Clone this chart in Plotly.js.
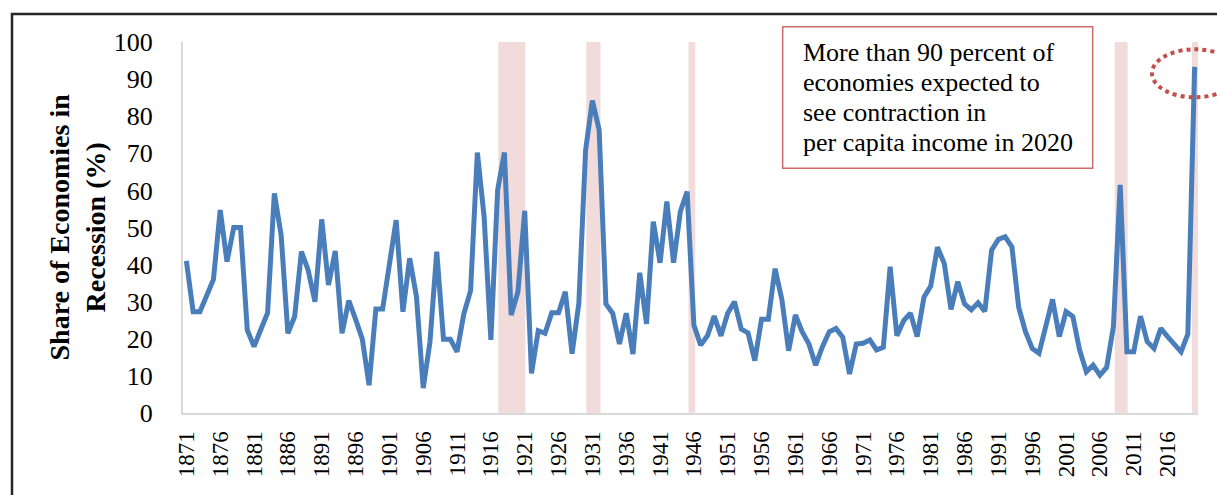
<!DOCTYPE html>
<html>
<head>
<meta charset="utf-8">
<script src="https://cdn.plot.ly/plotly-3.0.1.min.js"></script>
<style>
  html, body { margin: 0; padding: 0; background: #fff; }
  #chart { width: 1217px; height: 495px; }
</style>
</head>
<body>
<div id="chart"></div>
<script>
// ---- data ----
const firstYear = 1871;
const lastYear = 2020;
const years = [];
for (let y = firstYear; y <= lastYear; y++) years.push(y);

const shareInRecession = [
  41.0, 27.3, 27.3, 31.4, 36.0, 54.7, 40.8, 50.0, 50.0, 22.4,   // 1871-1880
  17.9, 22.5, 27.0, 59.2, 48.0, 21.5, 26.0, 43.5, 38.5, 30.0,   // 1881-1890
  52.2, 34.5, 43.7, 21.5, 30.3, 25.3, 19.9, 7.5, 28.0, 28.0,    // 1891-1900
  41.2, 52.0, 27.3, 41.7, 31.4, 6.7, 19.2, 43.5, 19.9, 19.9,    // 1901-1910
  16.5, 26.7, 33.0, 70.2, 52.9, 19.7, 60.1, 70.2, 26.4, 32.7,   // 1911-1920
  54.5, 10.7, 22.2, 21.5, 27.0, 27.0, 32.7, 16.0, 29.6, 70.9,   // 1921-1930
  84.2, 76.3, 29.4, 26.9, 18.6, 26.9, 15.9, 37.8, 24.0, 51.6,   // 1931-1940
  40.5, 57.0, 40.5, 54.3, 59.7, 23.7, 18.3, 20.8, 26.1, 20.8,   // 1941-1950
  26.9, 30.0, 22.6, 21.6, 14.1, 25.3, 25.3, 38.9, 30.6, 16.8,   // 1951-1960
  26.4, 21.9, 18.6, 12.9, 17.9, 21.9, 22.8, 20.4, 10.5, 18.6,   // 1961-1970
  18.8, 19.7, 17.0, 17.7, 39.4, 20.8, 24.9, 26.9, 20.6, 31.2,   // 1971-1980
  34.2, 44.7, 40.3, 27.9, 35.4, 29.4, 27.8, 29.7, 27.4, 43.9,   // 1981-1990
  46.8, 47.5, 44.8, 28.5, 21.9, 17.4, 16.1, 23.3, 30.6, 20.6,   // 1991-2000
  27.3, 26.0, 17.0, 11.1, 12.9, 10.2, 12.3, 23.3, 61.5, 16.5,   // 2001-2010
  16.5, 26.1, 19.2, 17.4, 22.8, 20.6, 18.3, 16.5, 21.3, 93.3    // 2011-2020
];

// global recession shading (start / end on the year axis)
const recessionStart = [1917.1, 1930.1, 1945.2, 2008.2, 2019.6];
const recessionEnd   = [1921.1, 1932.2, 1946.2, 2010.1, 2020.6];

// x tick labels every 5 years
const tickYears = years.filter(y => (y - firstYear) % 5 === 0);
const tickLabels = tickYears.map(String);
const yTicks = [0, 10, 20, 30, 40, 50, 60, 70, 80, 90, 100];

const noteLines = [
  "More than 90 percent of",
  "economies expected to",
  "see contraction in",
  "per capita income in 2020"
];
const yTitleText = "Share of Economies in<br>Recession (%)";

// ---- layout geometry helpers ----
const W = 1217, H = 495;
const mL = 183, mR = 19, mT = 42, mB = 82;
const pw = W - mL - mR, ph = H - mT - mB;
const px = (x) => (x - mL) / pw;      // pixel -> paper x
const py = (y) => (H - mB - y) / ph;  // pixel -> paper y

const serif = "'Liberation Serif', 'Times New Roman', serif";

const shapes = [];
recessionStart.forEach((s, i) => {
  shapes.push({
    type: 'rect', xref: 'x', yref: 'paper', layer: 'below',
    x0: s, x1: recessionEnd[i], y0: 0, y1: 1,
    fillcolor: '#F2DCDB', line: { width: 0 }
  });
});
// outer frame
shapes.push({
  type: 'rect', xref: 'paper', yref: 'paper',
  x0: px(12), x1: px(1260), y0: py(540), y1: py(14),
  line: { color: '#262626', width: 2.5 }, fillcolor: 'rgba(0,0,0,0)'
});
// note box
shapes.push({
  type: 'rect', xref: 'paper', yref: 'paper',
  x0: px(782.7), x1: px(1092.7), y0: py(168.3), y1: py(26.7),
  line: { color: '#D06A66', width: 1.5 }, fillcolor: 'rgba(0,0,0,0)'
});
// dotted ellipse highlighting 2020
shapes.push({
  type: 'circle', xref: 'paper', yref: 'paper',
  x0: px(1152), x1: px(1238), y0: py(97.3), y1: py(49.3),
  line: { color: '#C0504D', width: 4, dash: 'dot' }, fillcolor: 'rgba(0,0,0,0)'
});

const trace = {
  type: 'scatter', mode: 'lines',
  x: years, y: shareInRecession,
  line: { color: '#4A7EBB', width: 5 },
  hoverinfo: 'x+y'
};

const annotations = [
  {
    xref: 'paper', yref: 'paper', x: px(77), y: 0.5,
    xanchor: 'center', yanchor: 'middle', textangle: -90,
    text: '<b>' + yTitleText + '</b>', showarrow: false,
    font: { family: serif, size: 28, color: '#000' }
  }
];
noteLines.forEach((line, i) => {
  annotations.push({
    xref: 'paper', yref: 'paper', x: px(801), y: py(52.5 + 30 * i),
    xanchor: 'left', yanchor: 'middle', align: 'left',
    text: line, showarrow: false,
    font: { family: serif, size: 26, color: '#000' }
  });
});

const layout = {
  width: W, height: H,
  margin: { l: mL, r: mR, t: mT, b: mB, pad: 0 },
  paper_bgcolor: '#ffffff', plot_bgcolor: '#ffffff',
  showlegend: false,
  font: { family: serif, color: '#000' },
  xaxis: {
    range: [firstYear - 0.5, lastYear + 0.5],
    tickmode: 'array', tickvals: tickYears, ticktext: tickLabels,
    tickangle: -90, ticks: '', ticklabelstandoff: 7,
    tickfont: { family: serif, size: 23, color: '#000' },
    showline: true, linecolor: '#D9D9D9', linewidth: 2,
    showgrid: false, zeroline: false, fixedrange: true
  },
  yaxis: {
    range: [0, 100],
    tickmode: 'array', tickvals: yTicks, ticktext: yTicks.map(String),
    ticks: '', ticklabelstandoff: 23,
    tickfont: { family: serif, size: 26, color: '#000' },
    showline: true, linecolor: '#D9D9D9', linewidth: 2,
    showgrid: false, zeroline: false, fixedrange: true
  },
  shapes: shapes,
  annotations: annotations
};

Plotly.newPlot('chart', [trace], layout, { staticPlot: true, displayModeBar: false });
</script>
</body>
</html>
